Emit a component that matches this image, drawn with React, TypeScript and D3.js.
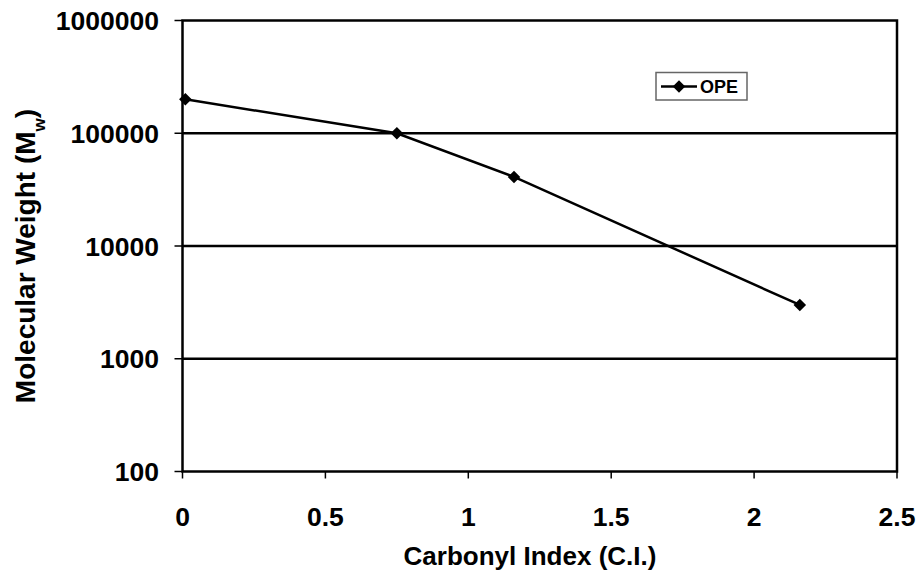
import React from "react";
import * as d3 from "d3";

const carbonylIndex = [0.01, 0.75, 1.16, 2.16];
const molecularWeight = [200000, 100000, 41000, 3000];
const xTicks = [0, 0.5, 1, 1.5, 2, 2.5];
const yTicks = [100, 1000, 10000, 100000, 1000000];
const seriesName = "OPE";

const W = 920, H = 576;
const left = 182.5, right = 897, top = 20.5, bottom = 471.5;

export default function App() {
  const x = d3.scaleLinear().domain([0, 2.5]).range([left, right]);
  const y = d3.scaleLog().domain([100, 1000000]).range([bottom, top]);
  const line = d3.line<number>().x((_, i) => x(carbonylIndex[i])).y((d) => y(d));
  const diamond = d3.symbol().type(d3.symbolDiamond2).size(100)() as string;
  const font = "'Liberation Sans', Arial, sans-serif";
  return (
    <svg width={W} height={H} style={{ position: "absolute", left: 0, top: 0, background: "#fff" }}>
      <rect width={W} height={H} fill="#fff" />
      {yTicks.slice(1, -1).map((t) => (
        <line key={t} x1={left} x2={right} y1={y(t)} y2={y(t)} stroke="#000" strokeWidth={2.5} />
      ))}
      <rect x={left} y={top} width={right - left} height={bottom - top} fill="none" stroke="#000" strokeWidth={2.5} />
      {yTicks.map((t) => (
        <g key={t}>
          <line x1={left - 8} x2={left} y1={y(t)} y2={y(t)} stroke="#000" strokeWidth={1.5} />
          <text x={159} y={y(t)} dy="0.36em" textAnchor="end" fontFamily={font} fontWeight="bold" fontSize={26.5}>{t}</text>
        </g>
      ))}
      {xTicks.map((t) => (
        <g key={t}>
          <line x1={x(t)} x2={x(t)} y1={bottom} y2={bottom + 7} stroke="#000" strokeWidth={1.5} />
          <text x={x(t)} y={526} textAnchor="middle" fontFamily={font} fontWeight="bold" fontSize={26.5}>{t}</text>
        </g>
      ))}
      <path d={line(molecularWeight) as string} fill="none" stroke="#000" strokeWidth={2.5} />
      {molecularWeight.map((v, i) => (
        <path key={i} d={diamond} transform={`translate(${x(carbonylIndex[i])},${y(v)})`} fill="#000" />
      ))}
      <text x={530} y={565} textAnchor="middle" fontFamily={font} fontWeight="bold" fontSize={26}>Carbonyl Index (C.I.)</text>
      <text transform="translate(35,256) rotate(-90)" textAnchor="middle" fontFamily={font} fontWeight="bold" fontSize={28}>
        Molecular Weight (M<tspan baselineShift="sub" fontSize={17}>w</tspan>)
      </text>
      <rect x={656} y={72.5} width={91} height={27.5} fill="#fff" stroke="#666" strokeWidth={1.5} />
      <line x1={661} x2={697} y1={86.5} y2={86.5} stroke="#000" strokeWidth={2.5} />
      <path d={diamond} transform="translate(679,86.5)" fill="#000" />
      <text x={700} y={86.5} dy="0.36em" fontFamily={font} fontWeight="bold" fontSize={18}>{seriesName}</text>
    </svg>
  );
}
